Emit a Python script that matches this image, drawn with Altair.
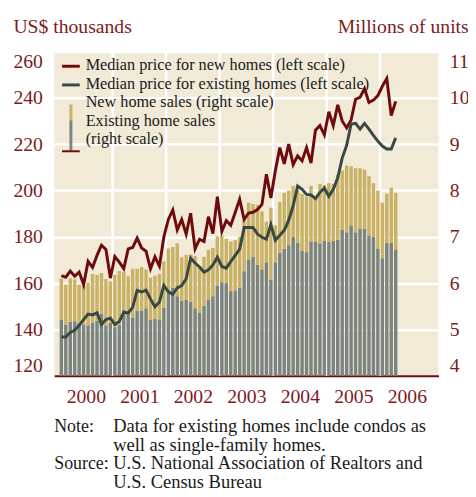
import altair as alt
import pandas as pd

# ---------------- data (monthly, Jan 2000 - Apr 2006) ----------------
years = [2000, 2001, 2002, 2003, 2004, 2005, 2006]
first_month = "2000-01"

new_price = [
    163.3, 162.6, 165.2, 163.0, 164.8, 159.4, 169.4, 166.8, 172.0, 176.4, 174.6, 162.2,
    171.5, 169.1, 166.3, 174.8, 175.4, 179.5, 175.2, 173.8, 166.2, 171.4, 167.4, 180.0,
    187.5, 191.6, 183.0, 187.5, 181.2, 190.2, 174.8, 179.0, 178.0, 188.7, 181.4, 197.3,
    182.4, 187.0, 185.0, 190.5, 196.2, 187.5, 190.3, 190.6, 191.8, 194.0, 207.0, 196.8,
    208.5, 218.5, 211.5, 220.0, 211.2, 215.0, 212.8, 218.5, 211.8, 226.0, 228.0, 224.0,
    234.0, 228.0, 237.0, 230.0, 227.0, 230.5, 239.4, 240.2, 244.0, 238.0, 239.0, 241.0,
    245.0, 248.3, 232.3, 238.5]

existing_price = [
    136.8, 136.8, 138.7, 139.7, 141.8, 144.3, 146.7, 146.3, 147.2, 142.2, 144.3, 144.9,
    142.2, 143.5, 147.4, 147.2, 149.6, 156.9, 156.2, 157.0, 153.1, 149.8, 151.9, 159.0,
    156.3, 155.2, 158.0, 159.0, 161.9, 170.8, 168.7, 167.0, 164.8, 165.8, 167.9, 171.2,
    167.2, 166.5, 169.3, 172.0, 174.7, 184.0, 184.0, 184.0, 181.2, 179.8, 179.0, 185.3,
    178.5, 180.7, 182.8, 187.2, 193.4, 201.9, 200.5, 198.3, 198.1, 196.5, 199.2, 201.0,
    197.5, 200.5, 205.5, 214.0, 219.5, 228.7, 229.0, 226.5, 229.0, 226.5, 223.8, 221.3,
    219.2, 217.9, 217.9, 222.7]

existing_sales = [
    5.21, 5.11, 5.16, 5.18, 5.15, 5.11, 5.09, 5.15, 5.19, 5.34, 5.09, 5.15,
    5.05, 5.10, 5.43, 5.37, 5.26, 5.41, 5.41, 5.46, 5.21, 5.23, 5.22, 5.47,
    5.80, 5.90, 5.72, 5.62, 5.64, 5.60, 5.46, 5.37, 5.51, 5.65, 5.72, 5.95,
    6.02, 6.01, 5.83, 5.83, 5.90, 6.26, 6.50, 6.57, 6.40, 6.30, 6.45, 6.07,
    6.45, 6.66, 6.74, 6.82, 7.00, 6.88, 6.70, 6.67, 6.90, 6.90, 6.86, 6.91,
    6.89, 6.91, 6.94, 7.15, 7.10, 7.25, 7.10, 7.18, 7.18, 7.03, 7.01, 6.75,
    6.54, 6.87, 6.87, 6.73]

new_sales = [
    0.89, 0.86, 0.94, 0.90, 0.82, 0.83, 0.92, 1.05, 0.99, 0.88, 1.00, 0.89,
    1.13, 1.16, 0.81, 0.78, 1.05, 0.90, 0.94, 0.84, 0.91, 0.93, 0.98, 1.00,
    0.95, 0.88, 1.14, 0.94, 0.97, 1.02, 1.13, 0.99, 1.06, 1.07, 1.04, 1.06,
    1.01, 0.95, 1.07, 1.10, 1.10, 1.09, 1.24, 1.14, 1.29, 1.25, 0.88, 1.56,
    0.80, 1.09, 1.21, 1.18, 1.10, 1.12, 1.23, 1.20, 1.20, 0.92, 1.28, 1.21,
    1.27, 1.23, 1.40, 1.28, 1.44, 1.27, 1.38, 1.30, 1.27, 1.28, 1.15, 1.25,
    1.20, 1.06, 1.19, 1.22]

price_ticks = [120, 140, 160, 180, 200, 220, 240, 260]
unit_ticks = [4, 5, 6, 7, 8, 9, 10, 11]

legend_lines = [
    "Median price for new homes (left scale)",
    "Median price for existing homes (left scale)",
    "New home sales (right scale)",
    "Existing home sales",
    "(right scale)",
]
note_head = "Note:"
source_head = "Source:"
note_lines = [
    "Data for existing homes include condos as",
    "well as single-family homes.",
]
source_lines = [
    "U.S. National Association of Realtors and",
    "U.S. Census Bureau",
]

# ---------------- styling ----------------
FONT = "Liberation Serif"
BG = "#f0ead7"
GOLD = "#c9b165"
GRAYBAR = "#7c847f"
RED_LINE = "#6e0a0c"
GRAY_LINE = "#3a4843"
TEXT_RED = "#7d1a1c"
TEXT = "#1a1a1a"

dates = pd.date_range(first_month, periods=len(new_price), freq="MS")
df = pd.DataFrame({
    "t": dates.year + (dates.month - 0.5) / 12.0,
    "new_price": new_price,
    "existing_price": existing_price,
    "existing_sales": existing_sales,
    "new_sales": new_sales,
})
df["total_sales"] = df["existing_sales"] + df["new_sales"]

bounds = pd.DataFrame({"b": years[1:]})

xscale = alt.Scale(domain=[years[0], years[-1] + 1], nice=False, zero=False)
xaxis = alt.Axis(
    values=[y + 0.5 for y in years], labelExpr="floor(datum.value)",
    grid=False, ticks=False, tickSize=0, domain=True, domainColor=RED_LINE,
    domainWidth=2, labelColor=TEXT_RED, labelFont=FONT, labelFontSize=20,
    labelPadding=11, labelFlush=False, title=None)

left_axis = alt.Axis(
    orient="left", values=price_ticks, grid=True, gridColor="white",
    gridWidth=2.5, domain=False, ticks=False, tickSize=0,
    labelColor=TEXT_RED, labelFont=FONT, labelFontSize=20, labelPadding=12,
    labelFlush=True, title="US$ thousands", titleAngle=0, titleAlign="left",
    titleBaseline="alphabetic", titleX=-42, titleY=-19, titleFont=FONT,
    titleFontSize=20, titleFontWeight="normal", titleColor=TEXT_RED)

right_axis = alt.Axis(
    orient="right", values=unit_ticks, grid=False, domain=False, ticks=False,
    tickSize=0, labelColor=TEXT_RED, labelFont=FONT, labelFontSize=20,
    labelPadding=11, labelFlush=True, title="Millions of units", titleAngle=0,
    titleAlign="left", titleBaseline="alphabetic", titleX=-103, titleY=-19,
    titleFont=FONT, titleFontSize=20, titleFontWeight="normal",
    titleColor=TEXT_RED)

uscale = alt.Scale(domain=[unit_ticks[0], unit_ticks[-1]], nice=False, zero=False)
pscale = alt.Scale(domain=[price_ticks[0], price_ticks[-1]], nice=False, zero=False)

year_rules = alt.Chart(bounds).mark_rule(color="white", strokeWidth=2.5).encode(
    x=alt.X("b:Q", scale=xscale, axis=xaxis))

gray_bars = alt.Chart(df).mark_bar(size=3.5, color=GRAYBAR).encode(
    x=alt.X("t:Q", scale=xscale, axis=xaxis),
    y=alt.Y("existing_sales:Q", scale=uscale, axis=right_axis),
    y2=alt.datum(unit_ticks[0]))

gold_bars = alt.Chart(df).mark_bar(size=3.5, color=GOLD).encode(
    x=alt.X("t:Q", scale=xscale, axis=xaxis),
    y=alt.Y("total_sales:Q", scale=uscale, axis=right_axis),
    y2="existing_sales:Q")

bars = alt.layer(year_rules, gray_bars, gold_bars)

red_line = alt.Chart(df).mark_line(color=RED_LINE, strokeWidth=3).encode(
    x=alt.X("t:Q", scale=xscale, axis=xaxis),
    y=alt.Y("new_price:Q", scale=pscale, axis=left_axis))
gray_line = alt.Chart(df).mark_line(color=GRAY_LINE, strokeWidth=3).encode(
    x=alt.X("t:Q", scale=xscale, axis=xaxis),
    y=alt.Y("existing_price:Q", scale=pscale, axis=left_axis))

lines = alt.layer(red_line, gray_line)

one = pd.DataFrame({"k": [0]})


def text_block(lines_, x, y, size, lh, color):
    return alt.Chart(pd.DataFrame({"label": [lines_]})).mark_text(
        align="left", baseline="alphabetic", font=FONT, fontSize=size,
        color=color, lineHeight=lh).encode(
        x=alt.value(x), y=alt.value(y), text="label")


legend_text = text_block(legend_lines, 32, 19, 16.5, 18.9, TEXT)

leg_red = alt.Chart(one).mark_rule(color=RED_LINE, strokeWidth=3).encode(
    x=alt.value(8), x2=alt.value(26), y=alt.value(15))
leg_gray = alt.Chart(one).mark_rule(color=GRAY_LINE, strokeWidth=3).encode(
    x=alt.value(8), x2=alt.value(26), y=alt.value(34))
leg_gold = alt.Chart(one).mark_rule(color=GOLD, strokeWidth=3).encode(
    x=alt.value(17), y=alt.value(54), y2=alt.value(70))
leg_graybar = alt.Chart(one).mark_rule(color=GRAYBAR, strokeWidth=3).encode(
    x=alt.value(17), y=alt.value(70), y2=alt.value(101))
leg_base = alt.Chart(one).mark_rule(color=RED_LINE, strokeWidth=2).encode(
    x=alt.value(8), x2=alt.value(26), y=alt.value(101.5))

NOTE_Y = 387
NOTE_LH = 19
NOTE_FS = 18.8
HEAD_FS = 18.2
note_h = text_block([note_head], 0, NOTE_Y, HEAD_FS, NOTE_LH, TEXT)
note_b = text_block(note_lines, 60, NOTE_Y, NOTE_FS, NOTE_LH, TEXT)
src_h = text_block([source_head], 0, NOTE_Y + 2 * NOTE_LH, HEAD_FS, NOTE_LH, TEXT)
src_b = text_block(source_lines, 60, NOTE_Y + 2 * NOTE_LH, NOTE_FS, NOTE_LH, TEXT)

chart = alt.layer(
    bars, lines, leg_red, leg_gray, leg_gold, leg_graybar, leg_base,
    legend_text, note_h, note_b, src_h, src_b
).resolve_scale(y="independent").properties(
    width=391, height=330,
    padding={"left": 47, "top": 40, "right": 30, "bottom": 120},
    autosize=alt.AutoSizeParams(type="none"),
).configure_view(fill=BG, stroke=None)

chart.save("out.html", embed_options={"renderer": "svg", "actions": False})
